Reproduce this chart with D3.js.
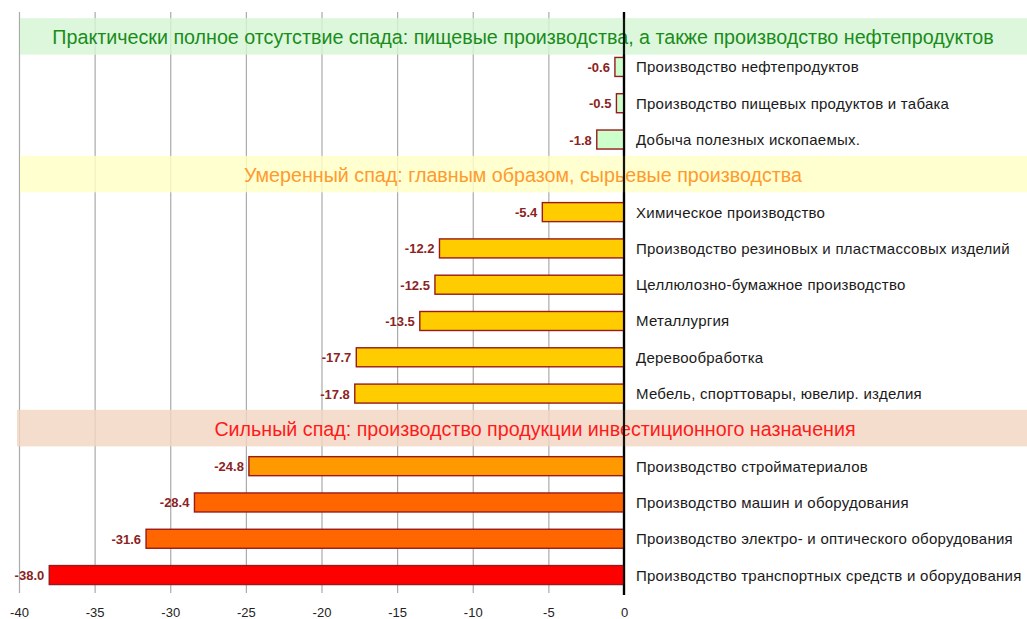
<!DOCTYPE html>
<html><head><meta charset="utf-8">
<script src="https://cdn.jsdelivr.net/npm/d3@7"></script>
<style>body{margin:0;background:#fff;} svg{display:block;font-family:"Liberation Sans",Arial,sans-serif;}</style>
</head><body><svg id="c" width="1027" height="619"></svg>
<script>
const categories = [
 "Производство нефтепродуктов",
 "Производство пищевых продуктов и табака",
 "Добыча полезных ископаемых.",
 "Химическое производство",
 "Производство резиновых и пластмассовых изделий",
 "Целлюлозно-бумажное производство",
 "Металлургия",
 "Деревообработка",
 "Мебель, спорттовары, ювелир. изделия",
 "Производство стройматериалов",
 "Производство машин и оборудования",
 "Производство электро- и оптического оборудования",
 "Производство транспортных средств и оборудования"
];
const values = [-0.6,-0.5,-1.8,-5.4,-12.2,-12.5,-13.5,-17.7,-17.8,-24.8,-28.4,-31.6,-38.0];
const groupOfRow = [0,0,0,1,1,1,1,1,1,2,2,2,2];
const barColors = ["#ccffcc","#ccffcc","#ccffcc","#ffcc00","#ffcc00","#ffcc00","#ffcc00","#ffcc00","#ffcc00","#ff9900","#ff6600","#ff6600","#ff0000"];
const groupTitles = [
 "Практически полное отсутствие спада: пищевые производства, а также производство нефтепродуктов",
 "Умеренный спад: главным образом, сырьевые производства",
 "Сильный спад: производство продукции инвестиционного назначения"
];
const groupFills = ["#d6f5d6","#ffffc4","#f2d6c2"];
const groupTextColors = ["#1a8c1a","#ff9a2e","#ff1a1a"];
const tickValues = [-40,-35,-30,-25,-20,-15,-10,-5,0];

const svg = d3.select("#c");
const x = d3.scaleLinear().domain([-40,0]).range([19,624]);

const slots = [];
groupTitles.forEach((t,g)=>{
  slots.push({type:"band", g});
  categories.forEach((c,i)=>{ if(groupOfRow[i]===g) slots.push({type:"row", i}); });
});
const y = d3.scaleBand().domain(d3.range(slots.length)).range([12.5, 593.2]);
const step = y.step();
const cy = k => y(k) + step/2;

// gridlines
svg.append("g").selectAll("line").data(tickValues.filter(v=>v!==0)).join("line")
  .attr("x1",d=>x(d)+0.5).attr("x2",d=>x(d)+0.5).attr("y1",12).attr("y2",593)
  .attr("stroke","#aaaaaa").attr("stroke-width",1.2);

svg.append("line").attr("x1",x(0)).attr("x2",x(0)).attr("y1",12).attr("y2",595)
  .attr("stroke","#000").attr("stroke-width",2.2);

// bands
const bandSlots = slots.map((s,k)=>({...s,k})).filter(s=>s.type==="band");
const bandTop = d => d.g===0 ? cy(d.k)-12.5 : cy(d.k)-20;
const bandLeft = d => d.g===2 ? 17 : 20;
const bg = svg.append("g");
bg.selectAll("rect").data(bandSlots).join("rect")
  .attr("x",bandLeft).attr("width",d=>1027-bandLeft(d))
  .attr("y",bandTop).attr("height",36.5)
  .attr("fill",d=>groupFills[d.g]).attr("opacity",0.82);
bg.selectAll("text").data(bandSlots).join("text")
  .attr("x",d=> d.g===2 ? 535 : 523).attr("y",d=>bandTop(d)+18.25+8)
  .attr("text-anchor","middle").attr("font-size",19.7)
  .attr("fill",d=>groupTextColors[d.g]).text(d=>groupTitles[d.g]);

// bars
const rowSlots = slots.map((s,k)=>({...s,k})).filter(s=>s.type==="row");
const bh = 19;
const gb = svg.append("g");
gb.selectAll("rect").data(rowSlots).join("rect")
  .attr("x",d=>x(values[d.i])).attr("width",d=>x(0)-x(values[d.i]))
  .attr("y",d=>cy(d.k)-bh/2).attr("height",bh)
  .attr("fill",d=>barColors[d.i]).attr("stroke","#991a1a").attr("stroke-width",1.4);
gb.selectAll("text.v").data(rowSlots).join("text").attr("class","v")
  .attr("x",d=>x(values[d.i])-5).attr("y",d=>cy(d.k)+5)
  .attr("text-anchor","end").attr("font-size",13).attr("font-weight","bold")
  .attr("fill","#8b2323").text(d=>values[d.i].toFixed(1));
gb.selectAll("text.c").data(rowSlots).join("text").attr("class","c")
  .attr("x",636).attr("y",d=>cy(d.k)+5.5)
  .attr("font-size",15).attr("letter-spacing",0.25).attr("fill","#1a1a1a").text(d=>categories[d.i]);

svg.append("line").attr("x1",x(0)).attr("x2",x(0)).attr("y1",12).attr("y2",595)
  .attr("stroke","#000").attr("stroke-width",2.2).attr("opacity",0.9);

// x axis
const ax = svg.append("g").attr("transform","translate(0,604.5)")
  .call(d3.axisBottom(x).tickValues(tickValues).tickSize(0).tickPadding(3).tickFormat(d => String(d)));
ax.select(".domain").remove();
ax.selectAll("text").attr("font-size",13).attr("fill","#222").attr("font-family","Liberation Sans, Arial, sans-serif");
</script></body></html>
